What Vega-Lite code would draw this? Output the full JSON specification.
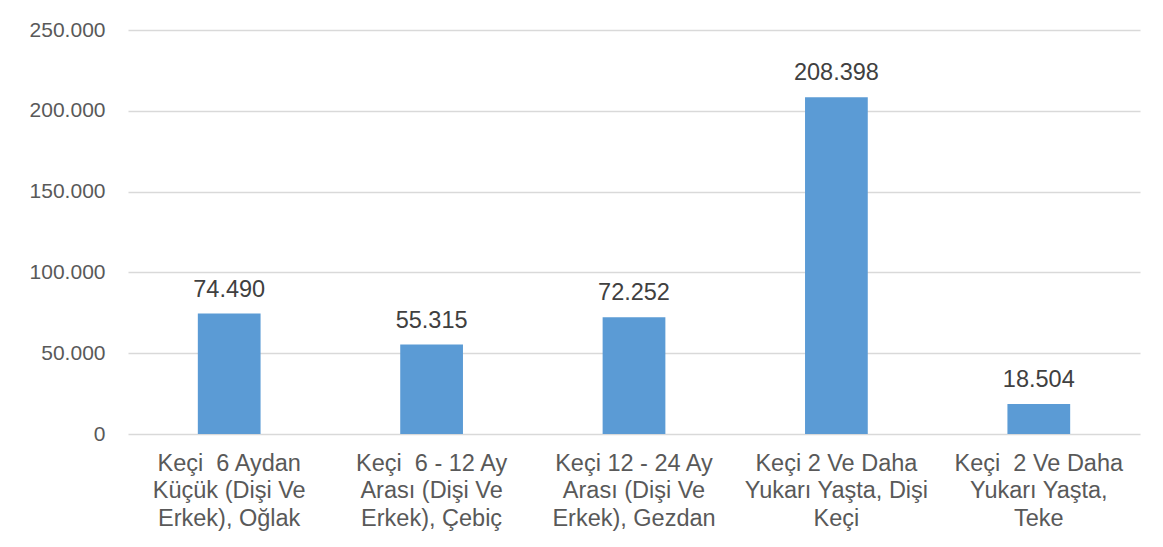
{
  "$schema": "https://vega.github.io/schema/vega-lite/v6.json",
  "autosize": {"type": "none"},
  "width": 1012,
  "height": 404,
  "padding": {"left": 128, "top": 30, "right": 23, "bottom": 113},
  "background": "white",
  "config": {
    "view": {"stroke": null},
    "font": "Liberation Sans",
    "locale": {"number": {"decimal": ",", "thousands": ".", "grouping": [3], "currency": ["", " TL"]}}
  },
  "data": {
    "values": [
      {"kategori": "Keçi \u00a06 Aydan|Küçük (Dişi Ve|Erkek), Oğlak", "deger": 74490},
      {"kategori": "Keçi \u00a06 - 12 Ay|Arası (Dişi Ve|Erkek), Çebiç", "deger": 55315},
      {"kategori": "Keçi 12 - 24 Ay|Arası (Dişi Ve|Erkek), Gezdan", "deger": 72252},
      {"kategori": "Keçi 2 Ve Daha|Yukarı Yaşta, Dişi|Keçi", "deger": 208398},
      {"kategori": "Keçi \u00a02 Ve Daha|Yukarı Yaşta,|Teke", "deger": 18504}
    ]
  },
  "encoding": {
    "x": {
      "field": "kategori",
      "type": "nominal",
      "sort": null,
      "scale": {"paddingInner": 0.69, "paddingOuter": 0.345},
      "axis": {
        "title": null,
        "labelAngle": 0,
        "domain": false,
        "ticks": false,
        "labelExpr": "split(datum.label, '|')",
        "labelFontSize": 23.5,
        "labelColor": "#595959",
        "labelPadding": 17,
        "labelLineHeight": 27.5,
        "labelLimit": 250
      }
    },
    "y": {
      "field": "deger",
      "type": "quantitative",
      "scale": {"domain": [0, 250000]},
      "axis": {
        "title": null,
        "values": [0, 50000, 100000, 150000, 200000, 250000],
        "format": ",d",
        "domain": false,
        "ticks": false,
        "grid": true,
        "gridColor": "#d9d9d9",
        "gridWidth": 1.3,
        "labelFontSize": 21,
        "labelColor": "#595959",
        "labelPadding": 23
      }
    }
  },
  "layer": [
    {"mark": {"type": "bar", "color": "#5b9bd5"}},
    {
      "mark": {"type": "text", "baseline": "alphabetic", "dy": -17, "fontSize": 23.5, "color": "#404040"},
      "encoding": {
        "text": {"field": "deger", "type": "quantitative", "format": ",d"}
      }
    }
  ]
}
